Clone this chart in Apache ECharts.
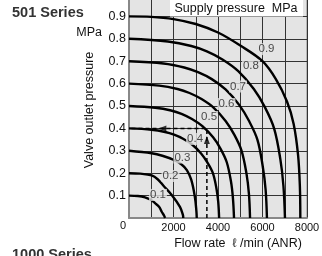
<!DOCTYPE html>
<html>
<head>
<meta charset="utf-8">
<script src="https://cdn.jsdelivr.net/npm/echarts@6/dist/echarts.min.js"></script>
<style>
    html, body { margin: 0; padding: 0; background: #fff; }
    #chart { width: 322px; height: 256px; }
</style>
</head>
<body>
<div id="chart"></div>
<script>
// outlet pressure (MPa) vs flow (l/min ANR), one curve per supply pressure
const curve01 = [[0, 0.1], [400, 0.098], [720, 0.092], [1000, 0.08], [1170, 0.066], [1350, 0.05], [1470, 0.028], [1580, 0.01], [1620, 0]]
const curve02 = [[0, 0.2], [500, 0.198], [1020, 0.19], [1300, 0.172], [1540, 0.145], [1920, 0.103], [2290, 0.05], [2420, 0.015], [2440, 0]]
const curve03 = [[0, 0.3], [1020, 0.289], [1500, 0.278], [2020, 0.259], [2350, 0.24], [2600, 0.214], [2800, 0.17], [2960, 0.095], [3030, 0.03], [3045, 0]]
const curve04 = [[0, 0.4], [1010, 0.394], [1620, 0.384], [2025, 0.372], [2430, 0.354], [2835, 0.328], [3240, 0.288], [3520, 0.248], [3770, 0.2], [3930, 0.132], [4010, 0.072], [4050, 0]]
const curve05 = [[0, 0.5], [1180, 0.492], [1890, 0.48], [2360, 0.465], [2830, 0.442], [3300, 0.41], [3780, 0.36], [4110, 0.31], [4390, 0.25], [4580, 0.165], [4670, 0.09], [4720, 0]]
const curve06 = [[0, 0.6], [1360, 0.591], [2180, 0.576], [2720, 0.558], [3260, 0.531], [3810, 0.492], [4350, 0.432], [4730, 0.372], [5060, 0.3], [5280, 0.198], [5390, 0.108], [5440, 0]]
const curve07 = [[0, 0.7], [1550, 0.69], [2480, 0.672], [3100, 0.651], [3720, 0.62], [4340, 0.574], [4960, 0.504], [5390, 0.434], [5770, 0.35], [6010, 0.231], [6140, 0.126], [6200, 0]]
const curve08 = [[0, 0.8], [1750, 0.788], [2800, 0.768], [3500, 0.744], [4200, 0.708], [4910, 0.656], [5610, 0.576], [6100, 0.496], [6520, 0.4], [6800, 0.264], [6940, 0.144], [7010, 0]]
const curve09 = [[0, 0.9], [1000, 0.898], [2000, 0.888], [3000, 0.866], [4000, 0.828], [5000, 0.77], [6000, 0.7], [6600, 0.62], [7100, 0.52], [7400, 0.42], [7600, 0.28], [7680, 0.14], [7700, 0]]
const curves = [curve01, curve02, curve03, curve04, curve05, curve06, curve07, curve08, curve09]

const curveNames = ['0.1', '0.2', '0.3', '0.4', '0.5', '0.6', '0.7', '0.8', '0.9']
const curveLabelPos = [[1300, 0.103], [1865, 0.1875], [2400, 0.27], [2970, 0.353], [3600, 0.451], [4380, 0.509], [4900, 0.587], [5480, 0.679], [6180, 0.754]]

// example reading: 3500 l/min -> 0.4 MPa
const readingPath = [[3500, 0], [3500, 0.4], [0, 0.4]]
const upArrow = [3500, 0.348]
const leftArrow = [1500, 0.4]

const xTicks = [0, 2000, 4000, 6000, 8000]

const bg = '#e4e4e4'
const font = 'Liberation Sans, Arial, sans-serif'

let dom = echarts.init(document.getElementById('chart'), null, { renderer: 'canvas' })

let series = curves.map((c, i) => ({
    type: 'line',
    name: curveNames[i],
    data: c,
    symbol: 'none',
    smooth: 0.35,
    lineStyle: { color: '#000', width: 2.4 },
    z: 3
}))

series.push({
    type: 'line',
    data: readingPath,
    symbol: 'none',
    lineStyle: { color: '#000', width: 1.5, type: [4, 3] },
    z: 4
})
series.push({
    type: 'scatter',
    data: [
        { value: upArrow, symbolRotate: 0 },
        { value: leftArrow, symbolRotate: 90 }
    ],
    symbol: 'triangle',
    symbolSize: [6, 8],
    itemStyle: { color: '#000' },
    z: 5
})
series.push({
    type: 'scatter',
    data: curveLabelPos.map((p, i) => ({ value: p, name: curveNames[i] })),
    symbolSize: 0,
    label: {
        show: true,
        position: 'inside',
        formatter: '{b}',
        fontFamily: font,
        fontSize: 11.5,
        color: '#222',
        backgroundColor: bg,
        padding: [0, 1]
    },
    z: 6
})

let option = {
    animation: false,
    grid: {
        left: 129,
        right: 15,
        top: -6,
        bottom: 38,
        show: true,
        backgroundColor: bg,
        borderColor: '#888',
        borderWidth: 1,
        outerBoundsMode: 'none'
    },
    xAxis: {
        type: 'value',
        min: 0,
        max: 8000,
        interval: 1000,
        axisLine: { show: true, onZero: false, lineStyle: { color: '#888', width: 2 } },
        axisTick: { show: false },
        splitLine: { show: true, lineStyle: { color: '#333', width: 1 } },
        axisLabel: {
            margin: 4,
            fontFamily: font,
            fontSize: 11,
            color: '#111',
            formatter: v => (v > 0 && xTicks.includes(v)) ? String(v) : ''
        }
    },
    yAxis: {
        type: 'value',
        min: 0,
        max: 1,
        interval: 0.1,
        axisLine: { show: true, onZero: false, lineStyle: { color: '#888', width: 2 } },
        axisTick: { show: false },
        splitLine: { show: true, lineStyle: { color: '#333', width: 1 } },
        axisLabel: {
            margin: 3,
            fontFamily: font,
            fontSize: 12.5,
            color: '#111',
            formatter: v => (v > 0.05 && v < 0.95) ? v.toFixed(1) : ''
        }
    },
    graphic: [
        {
            type: 'text', x: 12, y: 13, z: 10,
            style: { text: '501 Series', font: 'bold 14.5px ' + font, fill: '#333', verticalAlign: 'middle', textVerticalAlign: 'middle' }
        },
        {
            type: 'text', x: 12, y: 255, z: 10,
            style: { text: '1000 Series', font: 'bold 14.5px ' + font, fill: '#333', verticalAlign: 'middle', textVerticalAlign: 'middle' }
        },
        {
            type: 'text', x: 102, y: 33, z: 10,
            style: { text: 'MPa', font: '12.5px ' + font, fill: '#111', align: 'right', textAlign: 'right', verticalAlign: 'middle', textVerticalAlign: 'middle' }
        },
        {
            type: 'text', x: 90, y: 110, rotation: Math.PI / 2, z: 10,
            style: { text: 'Valve outlet pressure', font: '12.5px ' + font, fill: '#111', align: 'center', textAlign: 'center', verticalAlign: 'middle', textVerticalAlign: 'middle' }
        },
        {
            type: 'text', x: 123, y: 226, z: 10,
            style: { text: '0', font: '11px ' + font, fill: '#111', align: 'center', textAlign: 'center', verticalAlign: 'middle', textVerticalAlign: 'middle' }
        },
        {
            type: 'text', x: 238, y: 244, z: 10,
            style: { text: 'Flow rate  ℓ /min (ANR)', font: '12.5px ' + font, fill: '#111', align: 'center', textAlign: 'center', verticalAlign: 'middle', textVerticalAlign: 'middle' }
        },
        {
            type: 'rect', z: 20,
            shape: { x: 170, y: -1, width: 133, height: 17.5 },
            style: { fill: '#fff' }
        },
        {
            type: 'text', x: 236, y: 8.5, z: 21,
            style: { text: 'Supply pressure  MPa', font: '12.5px ' + font, fill: '#111', align: 'center', textAlign: 'center', verticalAlign: 'middle', textVerticalAlign: 'middle' }
        }
    ],
    series: series
}

dom.setOption(option)
</script>
</body>
</html>
